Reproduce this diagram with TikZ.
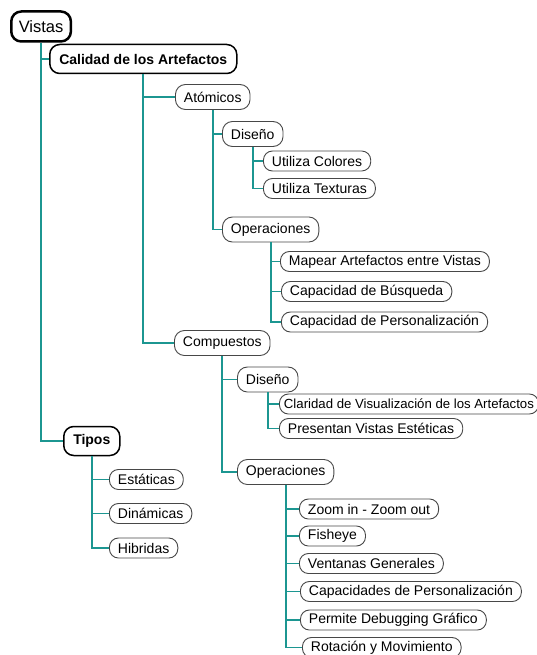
\documentclass[tikz,border=0pt]{standalone}
\usepackage{fontspec}
\setmainfont{Liberation Sans}
\definecolor{teal1}{RGB}{28,150,145}
\begin{document}
\begin{tikzpicture}[x=1pt,y=-1pt,
  base/.style={draw, anchor=west, rounded corners=9pt, fill=white, inner ysep=0pt,
    font=\fontsize{14}{16}\selectfont},
  leaf/.style={base, draw=black!72, line width=0.9pt, minimum height=20pt, inner xsep=8.5pt},
  mid/.style={base, draw=black!72, line width=0.9pt, minimum height=25pt, inner xsep=8.5pt, rounded corners=10pt},
  boldbox/.style={base, draw=black, line width=1.5pt, minimum height=29pt, inner xsep=9.5pt,
    rounded corners=10pt, font=\fontsize{14}{16}\selectfont\bfseries},
  topbox/.style={base, draw=black, line width=2.5pt, minimum height=30pt, inner xsep=7.5pt,
    rounded corners=10pt, font=\fontsize{16.5}{18}\selectfont},
  conn/.style={draw=teal1, line width=1.8pt},
  conntop/.style={draw=teal1, line width=2.3pt}]
\useasboundingbox (0,0) rectangle (537,655);
% nodes
\node[topbox] (vistas) at (10,26.5) {Vistas};
\node[boldbox] (calidad) at (49,59) {Calidad de los Artefactos};
\node[mid] (atom) at (175,97) {Atómicos};
\node[mid] (dis1) at (222,134) {Diseño};
\node[leaf] (uc) at (263,161) {Utiliza Colores};
\node[leaf] (ut) at (263,188.5) {Utiliza Texturas};
\node[mid] (op1) at (222,229.5) {Operaciones};
\node[leaf] (map) at (280,261.5) {Mapear Artefactos entre Vistas};
\node[leaf] (busq) at (281,291.5) {Capacidad de Búsqueda};
\node[leaf] (pers1) at (281,322) {Capacidad de Personalización};
\node[mid] (comp) at (174,343) {Compuestos};
\node[mid] (dis2) at (237,379.5) {Diseño};
\node[leaf, inner xsep=4.5pt, font=\fontsize{13.2}{15}\selectfont] (clar) at (279,404) {Claridad de Visualización de los Artefactos};
\node[leaf] (pres) at (279,428.5) {Presentan Vistas Estéticas};
\node[boldbox] (tipos) at (63,441) {Tipos};
\node[leaf] (est) at (109,479.5) {Estáticas};
\node[leaf] (din) at (109,513.5) {Dinámicas};
\node[leaf] (hib) at (109,548) {Hibridas};
\node[mid] (op2) at (237,472) {Operaciones};
\node[leaf] (zoom) at (299,509) {Zoom in - Zoom out};
\node[leaf] (fish) at (299,536) {Fisheye};
\node[leaf] (vent) at (299,563.5) {Ventanas Generales};
\node[leaf] (capp) at (300,591.5) {Capacidades de Personalización};
\node[leaf] (debug) at (300,620) {Permite Debugging Gráfico};
\node[leaf] (rot) at (302,647.5) {Rotación y Movimiento};
% connectors
\foreach \c in {calidad,tipos} \draw[conntop] (vistas.south) |- (\c.west);
\foreach \c in {atom,comp} \draw[conn] (calidad.south) |- (\c.west);
\foreach \c in {dis1,op1} \draw[conn] (atom.south) |- (\c.west);
\foreach \c in {uc,ut} \draw[conn] (dis1.south) |- (\c.west);
\foreach \c in {map,busq,pers1} \draw[conn] (op1.south) |- (\c.west);
\foreach \c in {dis2,op2} \draw[conn] (comp.south) |- (\c.west);
\foreach \c in {clar,pres} \draw[conn] (dis2.south) |- (\c.west);
\foreach \c in {est,din,hib} \draw[conn] (tipos.south) |- (\c.west);
\foreach \c in {zoom,fish,vent,capp,debug,rot} \draw[conn] (op2.south) |- (\c.west);
\end{tikzpicture}
\end{document}
